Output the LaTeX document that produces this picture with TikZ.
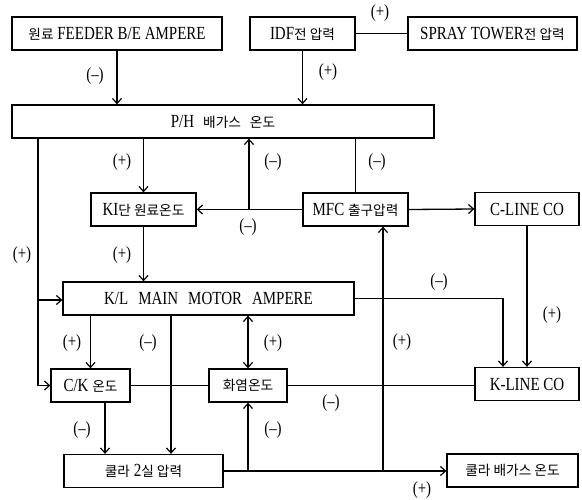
\documentclass[tikz,border=0pt]{standalone}
\usepackage{fontspec}
\setmainfont{Liberation Serif}[FakeStretch=0.81]
\newfontfamily\krfont{Noto Sans CJK KR}[Scale=0.74]
\newcommand{\hk}[1]{{\krfont #1}}
\newcommand{\lblfont}{\fontsize{18.5}{20}\selectfont}
\usetikzlibrary{arrows.meta}
\begin{document}
\begin{tikzpicture}[x=1pt,y=-1pt,
  box/.style={draw, line width=1.3pt, minimum height=33pt, inner sep=0pt, font=\lblfont},
  ln/.style={line width=1.3pt},
  arr/.style={ln, -{Straight Barb[length=5pt,width=9pt,line width=1.2pt]}},
  darr/.style={ln, {Straight Barb[length=5pt,width=9pt,line width=1.2pt]}-{Straight Barb[length=5pt,width=9pt,line width=1.2pt]}},
  sg/.style={inner sep=0pt, font=\lblfont}]
\useasboundingbox (0,0) rectangle (582,499);
% boxes
\node[box, minimum width=210pt] (feeder) at (117,33.5) {\hk{원료} FEEDER B/E AMPERE};
\node[box, minimum width=105pt] (idf) at (302.5,33.5) {IDF\hk{전 압력}};
\node[box, minimum width=169pt] (spray) at (492.5,33.5) {SPRAY TOWER\hk{전 압력}};
\node[box, minimum width=422pt] (ph) at (223,121.5) {P/H\hspace{9pt}\hk{배가스}\hspace{9pt}\hk{온도}};
\node[box, minimum width=105pt] (ki) at (143.5,209.5) {KI\hk{단 원료온도}};
\node[box, minimum width=105pt] (mfc) at (355.5,209.5) {MFC \hk{출구압력}};
\node[box, minimum width=104pt] (cline) at (527,209) {C-LINE CO};
\node[box, minimum width=291pt] (kl) at (208.5,298.5) {K/L\hspace{10pt}MAIN\hspace{10pt}MOTOR\hspace{10pt}AMPERE};
\node[box, minimum width=79pt] (ck) at (90.5,385.5) {C/K \hk{온도}};
\node[box, minimum width=78pt] (fire) at (248,385.5) {\hk{화염온도}};
\node[box, minimum width=104pt] (kline) at (527,384) {K-LINE CO};
\node[box, minimum width=159pt] (cool2) at (143.5,471) {\hk{쿨라} 2\hk{실 압력}};
\node[box, minimum width=131pt] (coolgas) at (512.5,470.5) {\hk{쿨라 배가스 온도}};
% helper coordinates
\coordinate (j1) at (249,209.5);
\coordinate (lft) at (38,138);
\coordinate (lb) at (38,300);
\coordinate (c171) at (171,0);
\coordinate (c105) at (105,0);
\coordinate (j3) at (383,471);
% connectors
\draw[arr] (feeder.south) -- (feeder.south |- ph.north);
\draw[arr] (idf.south) -- (idf.south |- ph.north);
\draw[ln] (idf.east) -- (spray.west);
\draw[arr] (ki.north |- ph.south) -- (ki.north);
\draw[arr] (mfc.west) -- (ki.east);
\draw[arr] (j1) -- (j1 |- ph.south);
\draw[ln] (mfc.north) -- (mfc.north |- ph.south);
\draw[arr] (mfc.east) -- (cline.west);
\draw[arr] (ki.south) -- (ki.south |- kl.north);
\draw[arr] (lft) |- (ck.west);
\draw[arr] (lb) -- (lb -| kl.west);
\draw[arr] (kl.east) -| ([xshift=-24pt]kline.north);
\draw[arr] (cline.south) -- (kline.north);
\draw[arr] (kl.south -| ck.north) -- (ck.north);
\draw[arr] (c171 |- kl.south) -- (c171 |- cool2.north);
\draw[darr] (fire.north |- kl.south) -- (fire.north);
\draw[ln] (ck.east) -- (fire.west);
\draw[ln] (fire.east) -- (fire.east -| kline.west);
\draw[arr] (c105 |- ck.south) -- (c105 |- cool2.north);
\draw[arr] (cool2.east) -- (cool2.east -| coolgas.west);
\draw[arr] (fire.south |- cool2.east) -- (fire.south);
\draw[arr] (j3) -- (j3 |- mfc.south);
% signs
\node[sg] (s1) at (95,76) {(–)};
\node[sg] (s2) at (328,72) {(+)};
\node[sg] (s3) at (380,13) {(+)};
\node[sg] (s4) at (122,162) {(+)};
\node[sg] (s5) at (273,162) {(–)};
\node[sg] (s6) at (377,162) {(–)};
\node[sg] (s7) at (248,227) {(–)};
\node[sg] (s8) at (122,255) {(+)};
\node[sg] (s9) at (22,255) {(+)};
\node[sg] (s10) at (439,282) {(–)};
\node[sg] (s11) at (552,315) {(+)};
\node[sg] (s12) at (72,343) {(+)};
\node[sg] (s13) at (148,343) {(–)};
\node[sg] (s14) at (273,343) {(+)};
\node[sg] (s15) at (402,342) {(+)};
\node[sg] (s16) at (331,403) {(–)};
\node[sg] (s17) at (82,430) {(–)};
\node[sg] (s18) at (273,430) {(–)};
\node[sg] (s19) at (422,490) {(+)};
\end{tikzpicture}
\end{document}
